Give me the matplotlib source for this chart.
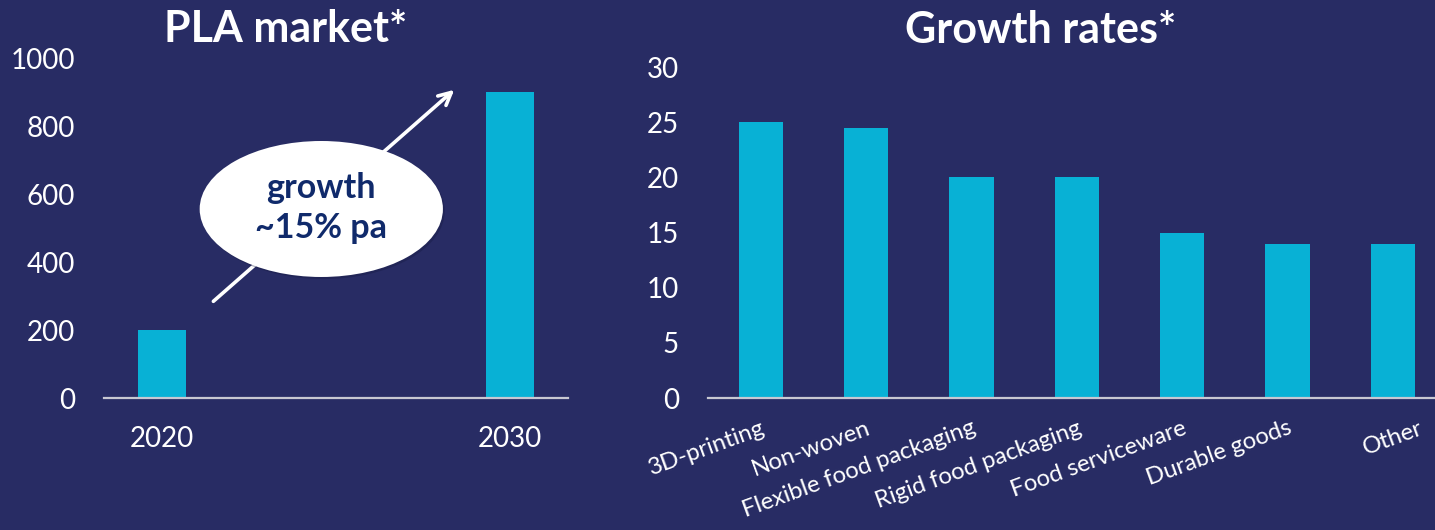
import matplotlib.pyplot as plt
from matplotlib.patches import Ellipse
from matplotlib.transforms import ScaledTranslation

# data
years = ['2020', '2030']
market = [200, 900]

segments = ['3D-printing', 'Non-woven', 'Flexible food packaging',
            'Rigid food packaging', 'Food serviceware', 'Durable goods', 'Other']
growth = [25, 24.5, 20, 20, 15, 14, 14]

BG = '#282c64'
BAR = '#08b1d5'
NAVY = '#102a6b'

plt.rcParams['font.family'] = ['Lato', 'DejaVu Sans']


def style(ax):
    ax.set_facecolor(BG)
    for s in ['top', 'right', 'left']:
        ax.spines[s].set_visible(False)
    ax.spines['bottom'].set_color('#c8c8d2')
    ax.spines['bottom'].set_linewidth(1.6)
    ax.tick_params(length=0, colors='white', labelsize=20)


def main():
    fig = plt.figure(figsize=(14.35, 5.30), dpi=100)
    fig.patch.set_facecolor(BG)

    # left: PLA market
    ax1 = fig.add_axes([0.0725, 0.249, 0.3235, 0.6415])
    style(ax1)
    ax1.bar(range(len(years)), market, width=0.138, color=BAR)
    ax1.set_xlim(-0.167, 1.167)
    ax1.set_ylim(0, 1000)
    ax1.set_yticks(range(0, 1001, 200))
    ax1.set_xticks(range(len(years)))
    ax1.set_xticklabels(years)
    ax1.tick_params(axis='y', pad=21)
    ax1.tick_params(axis='x', pad=20)

    ax1.annotate('', xy=(0.759, 0.912), xytext=(0.231, 0.279),
                 xycoords='axes fraction', textcoords='axes fraction',
                 arrowprops=dict(arrowstyle='->,head_length=0.9,head_width=0.45',
                                 color='white', lw=2.6))
    # shadow + bubble
    ax1.add_patch(Ellipse((0.472, 0.550), 0.524, 0.40, transform=ax1.transAxes,
                          facecolor='#15183f', alpha=0.35, clip_on=False, zorder=3))
    ax1.add_patch(Ellipse((0.468, 0.556), 0.524, 0.40, transform=ax1.transAxes,
                          facecolor='white', edgecolor='none', clip_on=False, zorder=4))
    ax1.text(0.468, 0.560, 'growth\n~15% pa', transform=ax1.transAxes,
             ha='center', va='center', fontsize=24.5, fontweight='bold',
             color=NAVY, linespacing=1.3, zorder=5)

    fig.text(0.199, 0.921, 'PLA market*', ha='center', va='baseline',
             fontsize=31, fontweight='bold', color='white')

    # right: growth rates
    ax2 = fig.add_axes([0.4934, 0.249, 0.514, 0.6245])
    style(ax2)
    ax2.bar(range(len(segments)), growth, width=0.42, color=BAR)
    ax2.set_xlim(-0.5, 6.5)
    ax2.set_ylim(0, 30)
    ax2.set_yticks(range(0, 31, 5))
    ax2.set_xticks(range(len(segments)))
    ax2.set_xticklabels(segments, rotation=20, ha='right',
                        rotation_mode='anchor', fontsize=17.2)
    ax2.tick_params(axis='y', pad=21)
    ax2.tick_params(axis='x', pad=14)
    # the last label sits a little further right in the original
    last = ax2.get_xticklabels()[-1]
    last.set_transform(last.get_transform() + ScaledTranslation(0.26, 0, fig.dpi_scale_trans))

    fig.text(0.7254, 0.919, 'Growth rates*', ha='center', va='baseline',
             fontsize=31, fontweight='bold', color='white')

    fig.savefig('out.png', facecolor=BG)


if __name__ == "__main__":
    main()
